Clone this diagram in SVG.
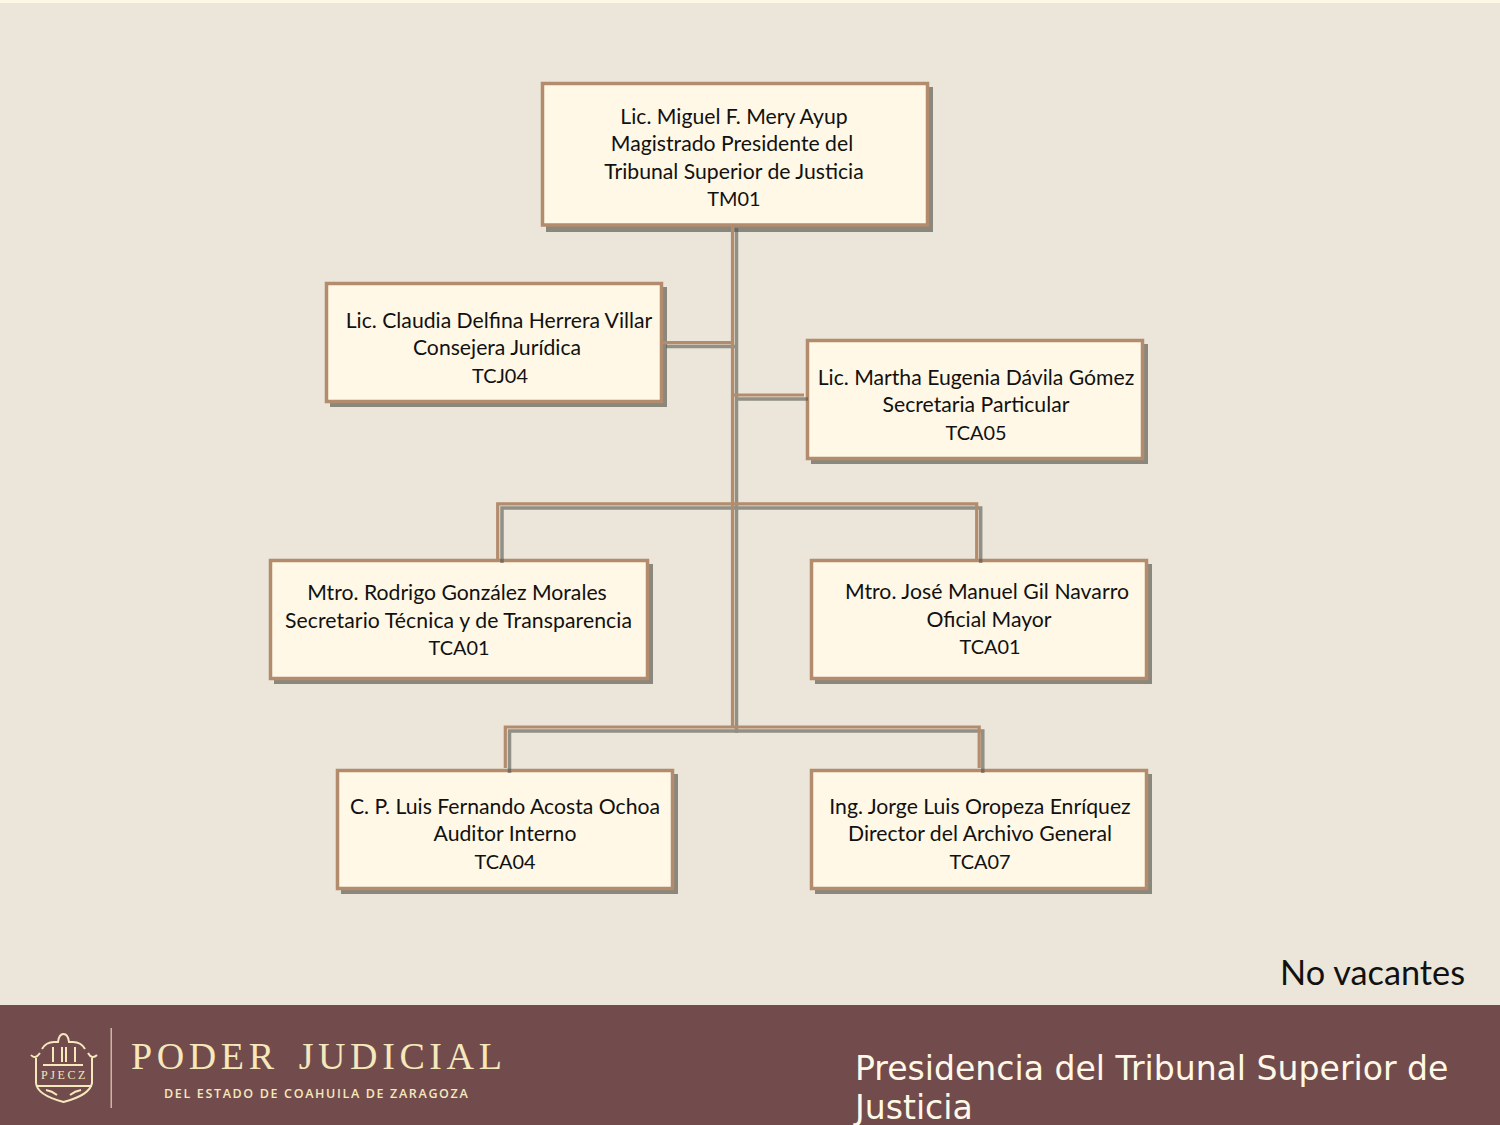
<svg xmlns="http://www.w3.org/2000/svg" width="1500" height="1125" viewBox="0 0 1500 1125">
<style>
.box{fill:#fff8e6;stroke:#b38b6d;stroke-width:3.5}
.sh{fill:#8a877d}
.t{font-family:Lato,"Liberation Sans",sans-serif;font-size:21.2px;fill:#111;text-anchor:middle}
.k{font-size:19.9px}
.cs{fill:none;stroke:#55554f;stroke-opacity:.6;stroke-width:3.5;stroke-linejoin:miter}
.c{fill:none;stroke:#b38b6d;stroke-width:3.2}
.lg{fill:none;stroke:#f6e8bd;stroke-width:2}
</style>
<rect width="1500" height="1125" fill="#ebe6d9"/>
<rect width="1500" height="3" fill="#fdf7e6"/>
<g id="n1"><rect class="sh" x="546" y="87" width="387" height="145"/><rect class="box" x="542.500" y="83.500" width="385" height="141.500"/>
<text class="t" x="734" y="124">Lic. Miguel F. Mery Ayup</text><text class="t" x="732" y="151">Magistrado Presidente del</text><text class="t" x="734" y="179">Tribunal Superior de Justicia</text><text class="t k" x="734" y="206">TM01</text></g>
<g id="n2"><rect class="sh" x="330" y="287" width="337" height="120"/><rect class="box" x="326.500" y="283.500" width="335" height="118"/>
<text class="t" x="499" y="328">Lic. Claudia Delfina Herrera Villar</text><text class="t" x="497" y="355">Consejera Jurídica</text><text class="t k" x="500" y="383">TCJ04</text></g>
<g id="n3"><rect class="sh" x="811" y="344" width="337" height="120"/><rect class="box" x="807.500" y="340.500" width="335" height="118"/>
<text class="t" x="976" y="385">Lic. Martha Eugenia Dávila Gómez</text><text class="t" x="976" y="412">Secretaria Particular</text><text class="t k" x="976" y="440">TCA05</text></g>
<g id="n4"><rect class="sh" x="274" y="564" width="379" height="120"/><rect class="box" x="270.500" y="560.500" width="377" height="118"/>
<text class="t" x="457" y="600">Mtro. Rodrigo González Morales</text><text class="t" x="458.500" y="628" textLength="347">Secretario Técnica y de Transparencia</text><text class="t k" x="459" y="655">TCA01</text></g>
<g id="n5"><rect class="sh" x="815" y="564" width="337" height="120"/><rect class="box" x="811.500" y="560.500" width="335" height="118"/>
<text class="t" x="987" y="599" textLength="284">Mtro. José Manuel Gil Navarro</text><text class="t" x="989" y="627">Oficial Mayor</text><text class="t k" x="990" y="654">TCA01</text></g>
<g id="n6"><rect class="sh" x="341" y="774" width="337" height="120"/><rect class="box" x="337.500" y="770.500" width="335" height="118"/>
<text class="t" x="505" y="814">C. P. Luis Fernando Acosta Ochoa</text><text class="t" x="505" y="841">Auditor Interno</text><text class="t k" x="505" y="869">TCA04</text></g>
<g id="n7"><rect class="sh" x="815" y="774" width="337" height="120"/><rect class="box" x="811.500" y="770.500" width="335" height="118"/>
<text class="t" x="980" y="814">Ing. Jorge Luis Oropeza Enríquez</text><text class="t" x="980" y="841">Director del Archivo General</text><text class="t k" x="980" y="869">TCA07</text></g>
<g id="connectors">
<path class="cs" d="M736.500 228V733M666 346.500H738M737 399H808M502 563V508H980.700V563M509.500 773V731H982.800V773"/>
<path class="c" d="M732.500 226V727M662 342.700H734M732.500 395H804M497.700 560V503.800H976.700V560M505.300 768V727H979.200V768"/>
</g>
<text x="1465" y="985" font-family="Lato,'Liberation Sans',sans-serif" font-size="34.300" fill="#111" text-anchor="end">No vacantes</text>
<rect y="1005" width="1500" height="120" fill="#724c4c"/>
<g id="logo">
<rect x="110.500" y="1028" width="1.500" height="80" fill="#c9b8a0"/>
<path class="lg" d="M42 1049Q46 1042 54 1042H58Q59 1034 63.500 1034Q68 1034 69 1042H73Q81 1042 85 1049M31 1055Q35 1060 40 1053M88 1053Q92 1060 97 1055M53 1047V1062M62 1047V1062M66 1047V1062M75 1047V1062M43 1065H83"/>
<path class="lg" d="M36 1058V1083Q37 1095 63.500 1102Q90 1095 92 1083V1058M36 1086H92"/>
<text x="64.500" y="1079" font-family="'Liberation Serif',serif" font-size="12" letter-spacing="2.600" fill="#f6e8bd" text-anchor="middle">PJECZ</text>
<path class="lg" stroke-width="1.500" d="M46 1090Q52 1091 57 1095M81 1090Q75 1091 70 1095"/>
<text x="131" y="1069" font-family="'Liberation Serif',serif" font-size="38" letter-spacing="4.600" word-spacing="6" fill="#f6e8bd">PODER JUDICIAL</text>
<text x="164" y="1098" font-family="'Open Sans',sans-serif" font-size="12.500" font-weight="600" letter-spacing="1.650" fill="#f6e8bd">DEL ESTADO DE COAHUILA DE ZARAGOZA</text>
</g>
<text font-family="'DejaVu Sans',sans-serif" font-size="33.100" fill="#fff8e6"><tspan x="855" y="1080">Presidencia del Tribunal Superior de</tspan><tspan x="855" y="1119">Justicia</tspan></text>
</svg>
